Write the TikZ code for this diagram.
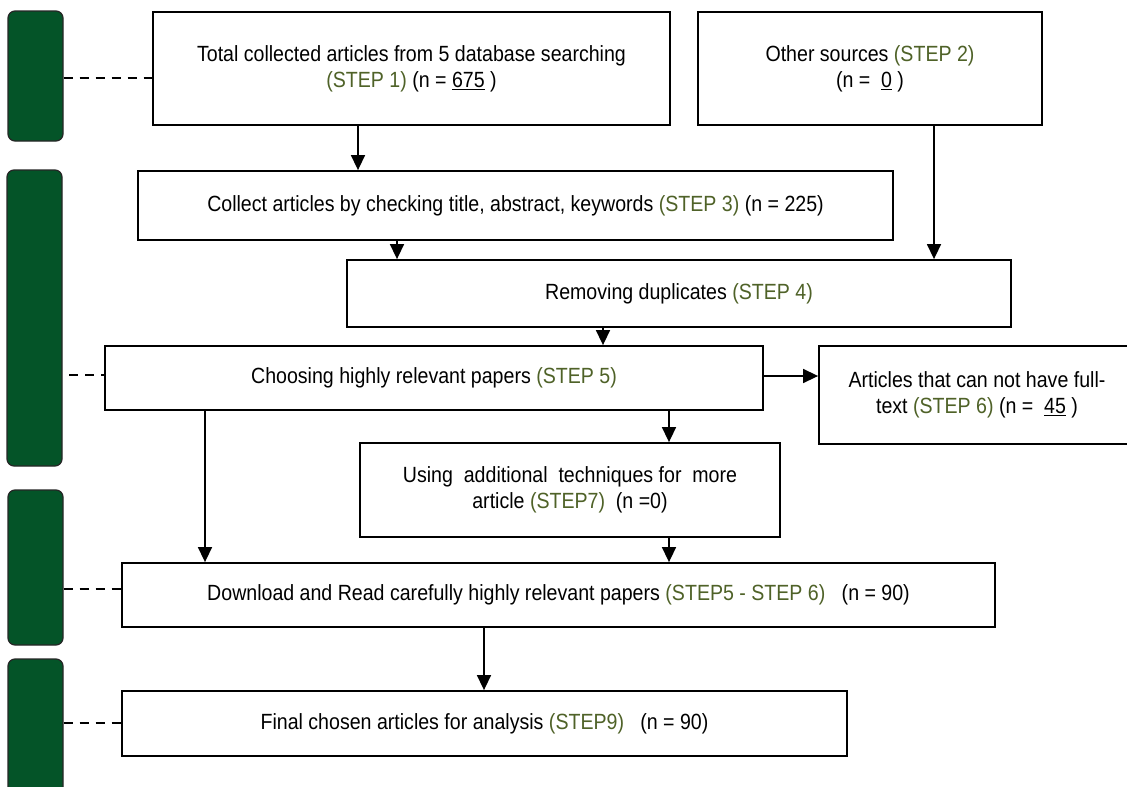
\documentclass[tikz,border=0pt]{standalone}
\usepackage{fontspec}
\setmainfont{Liberation Sans}[FakeStretch=0.89]
\usetikzlibrary{arrows.meta}
\definecolor{stepc}{RGB}{79,98,40}
\definecolor{barg}{RGB}{4,84,40}
\newcommand\stp[1]{\textcolor{stepc}{#1}}
\begin{document}
\begin{tikzpicture}[x=1pt,y=-1pt,
  box/.style={draw=black, line width=1.8pt, fill=white, inner sep=0pt, align=center,
    font=\fontsize{22}{26}\selectfont},
  bar/.style={draw=black!85, line width=1.2pt, fill=barg, rounded corners=7pt, inner sep=0pt, minimum width=55pt},
  arr/.style={line width=1.5pt, -{Triangle[length=15pt,width=14pt]}},
  dsh/.style={line width=1.5pt, dash pattern=on 9pt off 7pt}]
\clip (0,0) rectangle (1127,787);
\fill[white] (0,0) rectangle (1127,787);
% side bars
\node[bar, minimum height=130pt] (g1) at (35.5,76) {};
\node[bar, minimum height=296pt] (g2) at (34.5,318) {};
\node[bar, minimum height=155pt] (g3) at (35.5,567.5) {};
\node[bar, minimum height=142pt] (g4) at (35.5,730) {};
% boxes
\node[box, minimum width=517pt, minimum height=113pt] (b1) at (411.5,68.5)
  {Total collected articles from 5 database searching\\ \stp{(STEP 1)} (n = \underline{675} )};
\node[box, minimum width=344pt, minimum height=113pt] (b2) at (870,68.5)
  {Other sources \stp{(STEP 2)}\\ (n = ~\underline{0} )};
\node[box, minimum width=755pt, minimum height=69pt] (collect) at (515.5,205.5)
  {Collect articles by checking title, abstract, keywords \stp{(STEP 3)} (n = 225)};
\node[box, minimum width=664pt, minimum height=67pt] (remove) at (679,293.5)
  {Removing duplicates \stp{(STEP 4)}};
\node[box, minimum width=658pt, minimum height=64pt] (choose) at (434,378)
  {Choosing highly relevant papers \stp{(STEP 5)}};
\node[box, minimum width=316pt, minimum height=98pt] (articles) at (977,395)
  {Articles that can not have full-\\ text \stp{(STEP 6)} (n = ~\underline{45} )};
\node[box, minimum width=420pt, minimum height=94pt] (using) at (570,490)
  {Using ~additional ~techniques for ~more\\ article \stp{(STEP7)} ~(n =0)};
\node[box, minimum width=873pt, minimum height=64pt] (download) at (558.5,595)
  {Download and Read carefully highly relevant papers \stp{(STEP5 - STEP 6)} ~~(n = 90)};
\node[box, minimum width=725pt, minimum height=65pt] (final) at (484.5,723.5)
  {Final chosen articles for analysis \stp{(STEP9)} ~~(n = 90)};
% helper coordinates
\coordinate (xa) at (358,0);
\coordinate (xb) at (934,0);
\coordinate (xc) at (397,0);
\coordinate (xd) at (603,0);
\coordinate (xe) at (669,0);
\coordinate (xf) at (205,0);
\coordinate (xg) at (484,0);
\coordinate (ya) at (0,376);
\coordinate (yd1) at (0,78);
\coordinate (d2s) at (69,375);
\coordinate (yd3) at (0,589);
\coordinate (yd4) at (0,723);
% arrows
\draw[arr] (b1.south -| xa) -- (collect.north -| xa);
\draw[arr] (b2.south -| xb) -- (remove.north -| xb);
\draw[arr] (collect.south -| xc) -- (remove.north -| xc);
\draw[arr] (remove.south -| xd) -- (choose.north -| xd);
\draw[arr] (choose.east |- ya) -- (articles.west |- ya);
\draw[arr] (choose.south -| xe) -- (using.north -| xe);
\draw[arr] (choose.south -| xf) -- (download.north -| xf);
\draw[arr] (using.south -| xe) -- (download.north -| xe);
\draw[arr] (download.south -| xg) -- (final.north -| xg);
% dashed links
\draw[dsh] (g1.east |- yd1) -- (b1.west |- yd1);
\draw[dsh] (d2s) -- (choose.west |- d2s);
\draw[dsh] (g3.east |- yd3) -- (download.west |- yd3);
\draw[dsh] (g4.east |- yd4) -- (final.west |- yd4);
\end{tikzpicture}
\end{document}
